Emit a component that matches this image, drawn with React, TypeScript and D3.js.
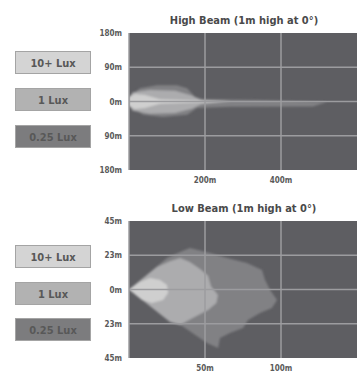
import React from "react";
import * as d3 from "d3";

const legendLabels = ["10+ Lux", "1 Lux", "0.25 Lux"];
const legendFills = ["#d4d4d4", "#b2b2b2", "#7c7c7e"];
const regionFills = ["#cfcfcf", "#acacae", "#818184"];

const highTitle = "High Beam (1m high at 0\u00B0)";
const highXTicks = [200, 400];
const highXLabels = ["200m", "400m"];
const highYTicks = [180, 90, 0, -90, -180];
const highYLabels = ["180m", "90m", "0m", "90m", "180m"];

const lowTitle = "Low Beam (1m high at 0\u00B0)";
const lowXTicks = [50, 100];
const lowXLabels = ["50m", "100m"];
const lowYTicks = [45, 22.5, 0, -22.5, -45];
const lowYLabels = ["45m", "23m", "0m", "23m", "45m"];

// High beam regions [distance m, lateral m]
const high025: [number, number][] = [
  [0, 12], [29, 35], [74, 43], [126, 43], [153, 35], [174, 12], [195, 6],
  [350, 4], [521, -1], [484, -13], [266, -14], [179, -17], [153, -35],
  [89, -41], [37, -35], [10, -17], [0, -8],
];
const high1: [number, number][] = [
  [0, 9], [10, 24], [55, 30], [121, 28], [165, 16], [190, 4], [270, 1],
  [190, -7], [165, -19], [121, -30], [55, -32], [10, -24], [0, -9],
];
const high10: [number, number][] = [
  [0, 12], [16, 20], [42, 17], [82, 6], [255, 0], [82, -6], [42, -17],
  [16, -20], [0, -12],
];

// Low beam regions
const low025: [number, number][] = [
  [0, 0], [25, 20.7], [33.6, 24.7], [40, 27.3], [45.4, 26], [53.3, 24],
  [64.5, 20.7], [77.6, 17.4], [87.5, 12.8], [89.5, 6.2], [92.8, -0.3],
  [97.4, -6.9], [94, -12.2], [86.2, -15.5], [78.3, -20], [75, -25.3],
  [66.4, -28.6], [59.9, -31.9], [58.6, -38.5], [51.3, -35.2],
];
const low1: [number, number][] = [
  [0, 0], [18.4, 14.8], [27, 18.5], [33.6, 20.7], [40, 18], [46.7, 13.5],
  [52, 9], [54, 2], [58.5, -3.6], [57.5, -8.9], [52, -13.5],
  [45, -17], [38.5, -20.5], [33.6, -23.4], [27, -21.4],
];
const low10: [number, number][] = [
  [0, 0], [7.2, 4.9], [13.8, 7.6], [20.4, 6.2], [25, 3], [25.7, -2.3],
  [22.4, -6.9], [15.1, -8.9], [8.6, -6.9],
];

const FONT = "'Liberation Sans Narrow', 'DejaVu Sans Condensed', 'Arial Narrow', sans-serif";

type PanelProps = {
  id: string;
  top: number;
  bottom: number;
  title: string;
  xMax: number;
  yMax: number;
  xTicks: number[];
  xLabels: string[];
  yTicks: number[];
  yLabels: string[];
  regions: [number, number][][];
  legendTops: number[];
};

function Panel(p: PanelProps) {
  const left = 129;
  const right = 357;
  const x = d3.scaleLinear().domain([0, p.xMax]).range([left, right]);
  const y = d3.scaleLinear().domain([p.yMax, -p.yMax]).range([p.top, p.bottom]);
  const line = d3
    .line<[number, number]>()
    .x((d) => x(d[0]))
    .y((d) => y(d[1]))
    .curve(d3.curveLinearClosed);
  const order = [2, 1, 0];
  return (
    <g>
      <defs>
        <clipPath id={"clip" + p.id}>
          <rect x={left} y={p.top} width={right - left} height={p.bottom - p.top} />
        </clipPath>
      </defs>
      <text
        x={(left + right) / 2 + 1}
        y={p.top - 9}
        textAnchor="middle"
        fontFamily={FONT}
        fontWeight="bold"
        fontSize={11}
        fill="#4a4a4a"
      >
        {p.title}
      </text>
      <rect x={left} y={p.top} width={right - left} height={p.bottom - p.top} fill="#5e5e62" />
      <g clipPath={`url(#clip${p.id})`}>
        <g filter="url(#soft)">
          {order.map((i) => (
            <path key={i} d={line(p.regions[i]) || ""} fill={regionFills[i]} />
          ))}
        </g>
      </g>
      {p.yTicks.slice(1, -1).map((t) => (
        <line key={"gy" + t} x1={left} x2={right} y1={y(t)} y2={y(t)} stroke="#9c9c9f" strokeWidth={1.5} />
      ))}
      {[0, ...p.xTicks].map((t) => (
        <line key={"gx" + t} x1={x(t)} x2={x(t)} y1={p.top} y2={p.bottom} stroke="#9c9c9f" strokeWidth={1.5} />
      ))}
      {p.yTicks.map((t, i) => (
        <text
          key={"ly" + i}
          x={122}
          y={y(t) + 3}
          textAnchor="end"
          fontFamily={FONT}
          fontWeight="bold"
          fontSize={8}
          fill="#5a5a5a"
        >
          {p.yLabels[i]}
        </text>
      ))}
      {p.xTicks.map((t, i) => (
        <text
          key={"lx" + i}
          x={x(t)}
          y={p.bottom + 13}
          textAnchor="middle"
          fontFamily={FONT}
          fontWeight="bold"
          fontSize={8}
          fill="#5a5a5a"
        >
          {p.xLabels[i]}
        </text>
      ))}
      {legendLabels.map((lab, i) => (
        <g key={"lg" + i}>
          <rect
            x={15.5}
            y={p.legendTops[i] + 0.5}
            width={75}
            height={22}
            fill={legendFills[i]}
            stroke="#a4a4a4"
            strokeWidth={1}
          />
          <text
            x={53}
            y={p.legendTops[i] + 15.5}
            textAnchor="middle"
            fontFamily={FONT}
            fontWeight="bold"
            fontSize={11}
            fill="#585858"
          >
            {lab}
          </text>
        </g>
      ))}
    </g>
  );
}

export default function App() {
  return (
    <svg
      width={362}
      height={372}
      style={{ position: "absolute", left: 0, top: 0, background: "#fff" }}
    >
      <defs>
        <filter id="soft" x="-10%" y="-10%" width="120%" height="120%">
          <feGaussianBlur stdDeviation={0.9} />
        </filter>
      </defs>
      <Panel
        id="hi"
        top={33}
        bottom={170}
        title={highTitle}
        xMax={600}
        yMax={180}
        xTicks={highXTicks}
        xLabels={highXLabels}
        yTicks={highYTicks}
        yLabels={highYLabels}
        regions={[high10, high1, high025]}
        legendTops={[51, 88, 125]}
      />
      <Panel
        id="lo"
        top={221}
        bottom={358}
        title={lowTitle}
        xMax={150}
        yMax={45}
        xTicks={lowXTicks}
        xLabels={lowXLabels}
        yTicks={lowYTicks}
        yLabels={lowYLabels}
        regions={[low10, low1, low025]}
        legendTops={[245, 282, 318]}
      />
    </svg>
  );
}
